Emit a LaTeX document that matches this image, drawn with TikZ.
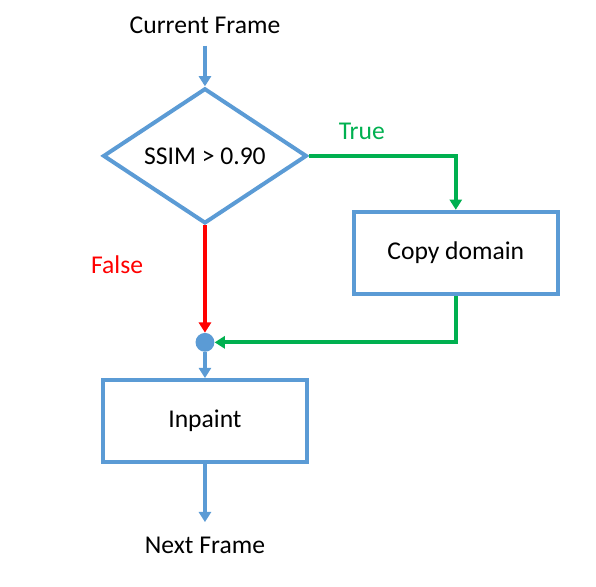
\documentclass[tikz,border=0pt]{standalone}
\usepackage{fontspec}
\setmainfont{Carlito}
\usetikzlibrary{shapes.geometric, arrows.meta, positioning}
\definecolor{cBlue}{RGB}{91,155,213}
\definecolor{cGreen}{RGB}{0,176,80}
\definecolor{cRed}{RGB}{255,0,0}
\tikzset{
	decision/.style ={diamond, aspect=1.5, minimum width=5.4cm, minimum height=3.58cm, text centered, align=center, draw=cBlue, line width=3pt, inner sep=1pt},
	process/.style  ={rectangle, minimum width=5.4cm, minimum height=2.18cm, text centered, align=center, draw=cBlue, line width=3pt},
	joint/.style    ={circle, fill=cBlue, minimum size=0.5cm, inner sep=0pt},
	flowarrow/.style={-{Triangle[length=2.7mm, width=3.2mm]}, line width=3pt},
}
\begin{document}
\begin{tikzpicture}[font=\fontsize{19.3}{23}\selectfont, node distance=1cm]
					\useasboundingbox (-5.43,-11.42) rectangle (10.36,4.13);
					\node[decision] (cond) {SSIM > 0.90};
					\node[above=1.27cm of cond] (cur) {Current Frame};
					\node[process, right=1.14cm of cond, yshift=-2.57cm] (copy) {Copy domain};
					\node[joint, below=2.84cm of cond] (dot) {};
					\node[process, below=0.69cm of dot] (inp) {Inpaint};
					\node[below=1.8cm of inp] (next) {Next Frame};
					\draw[flowarrow, cBlue, shorten <=0.19cm] (cur) -- (cond);
					\draw[flowarrow, cGreen] (cond.east) -| node[pos=0.18, above=0.26cm]{True} (copy.north);
					\draw[flowarrow, cRed] (cond.south) -- node[pos=0.37, left=1.47cm]{False} (dot.north);
					\draw[flowarrow, cGreen] (copy.south) |- (dot.east);
					\draw[flowarrow, cBlue] (dot) -- (inp);
					\draw[flowarrow, cBlue, shorten >=0.27cm] (inp) -- (next);
				\end{tikzpicture}
\end{document}
